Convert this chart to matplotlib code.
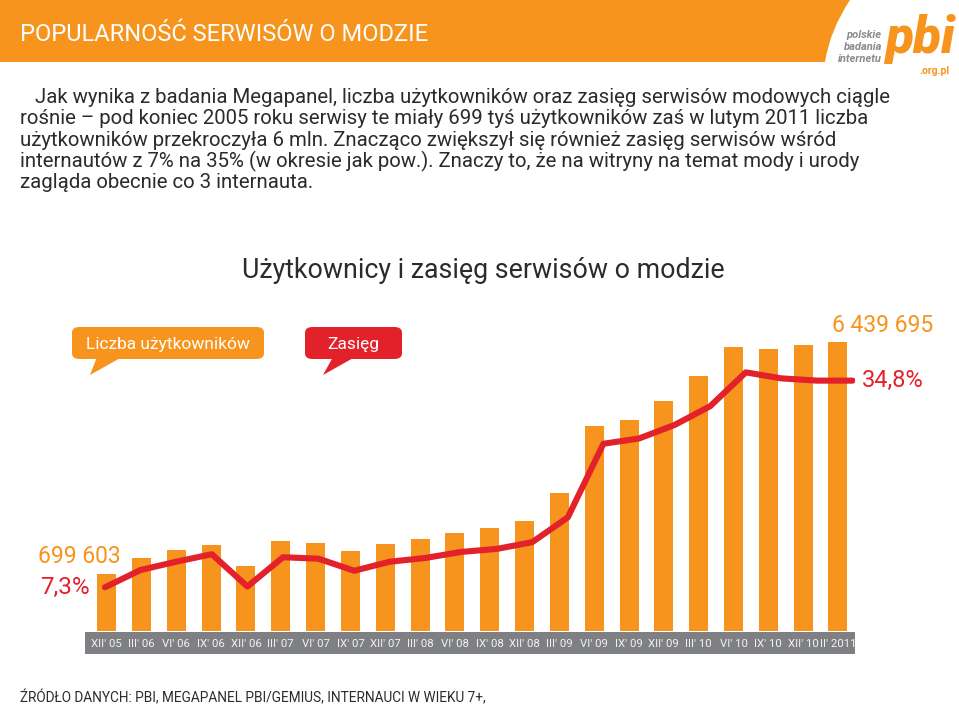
import matplotlib
matplotlib.use("Agg")
import matplotlib.pyplot as plt
from matplotlib.patches import FancyBboxPatch, Polygon, PathPatch
from matplotlib.path import Path
import numpy as np

# ---------------- data ----------------
categories = ["XII' 05", "III' 06", "VI' 06", "IX' 06", "XII' 06", "III' 07", "VI' 07",
              "IX' 07", "XII' 07", "III' 08", "VI' 08", "IX' 08", "XII' 08", "III' 09",
              "VI' 09", "IX' 09", "XII' 09", "III' 10", "VI' 10", "IX' 10", "XII' 10",
              "II' 2011"]
users = [699603, 1102000, 1292000, 1416000, 904000, 1515000, 1465000, 1260000,
         1441000, 1557000, 1712000, 1843000, 2009000, 2708000, 4364000, 4505000,
         4974000, 5592000, 6316000, 6259000, 6358000, 6439695]
reach = [7.3, 9.6, 10.7, 11.7, 7.4, 11.3, 11.1, 9.5, 10.7, 11.2, 12.0, 12.4, 13.3,
         16.6, 26.4, 27.1, 28.9, 31.4, 35.9, 35.1, 34.8, 34.8]

header_title = "POPULARNOŚĆ SERWISÓW O MODZIE"
paragraph = [
    "Jak wynika z badania Megapanel, liczba użytkowników oraz zasięg serwisów modowych ciągle",
    "rośnie – pod koniec 2005 roku serwisy te miały 699 tyś użytkowników zaś w lutym 2011 liczba",
    "użytkowników przekroczyła 6 mln. Znacząco zwiększył się również zasięg serwisów wśród",
    "internautów z 7% na 35% (w okresie jak pow.). Znaczy to, że na witryny na temat mody i urody",
    "zagląda obecnie co 3 internauta.",
]
chart_title = "Użytkownicy i zasięg serwisów o modzie"
legend_users = "Liczba użytkowników"
legend_reach = "Zasięg"
source = "ŹRÓDŁO DANYCH: PBI, MEGAPANEL PBI/GEMIUS, INTERNAUCI W WIEKU 7+,"

# ---------------- style ----------------
ORANGE = "#F7941D"
RED = "#E3212B"
GRAY = "#7F8083"
TEXT = "#2B2B2B"
plt.rcParams['font.family'] = ['Roboto', 'DejaVu Sans']

W, H = 959, 705
fig = plt.figure(figsize=(W / 100, H / 100), dpi=100)
fig.patch.set_facecolor("white")


def fx(px):
    return px / W


def fy(py):
    return 1 - py / H


# ---------------- header ----------------
verts = [(fx(0), fy(0)), (fx(850), fy(0)), (fx(830), fy(30)), (fx(825), fy(62)),
         (fx(0), fy(62)), (fx(0), fy(0))]
codes = [Path.MOVETO, Path.LINETO, Path.CURVE3, Path.CURVE3, Path.LINETO, Path.CLOSEPOLY]
fig.patches.append(PathPatch(Path(verts, codes), transform=fig.transFigure,
                             facecolor=ORANGE, edgecolor="none", zorder=0))
fig.text(fx(20), fy(41), header_title, color="white", fontsize=17, va="baseline", ha="left")

# logo
for i, w in enumerate(["polskie", "badania", "internetu"]):
    fig.text(fx(882), fy(38 + 12 * i), w, color="#8C8C8C", fontsize=8, fontweight="bold",
             style="italic", ha="right", va="baseline")
fig.text(fx(885), fy(53), "pbi", color=ORANGE, fontsize=37, fontweight="black",
         style="italic", ha="left", va="baseline")
fig.text(fx(949), fy(74), ".org.pl", color=ORANGE, fontsize=7.5, fontweight="bold",
         ha="right", va="baseline")

# paragraph
for i, line in enumerate(paragraph):
    x0 = 35 if i == 0 else 20
    fig.text(fx(x0), fy(103 + 21.3 * i), line, color=TEXT, fontsize=14.7,
             ha="left", va="baseline")

# chart title
fig.text(fx(483), fy(278), chart_title, color=TEXT, fontsize=19.3, ha="center", va="baseline")

# legend bubbles
def bubble(x0, x1, y0, y1, tail, color, label):
    box = FancyBboxPatch((fx(x0), fy(y1)), fx(x1) - fx(x0), (y1 - y0) / H,
                         boxstyle="round,pad=0,rounding_size=0.008",
                         transform=fig.transFigure, facecolor=color, edgecolor="none")
    fig.patches.append(box)
    tri = Polygon([(fx(p[0]), fy(p[1])) for p in tail], closed=True,
                  transform=fig.transFigure, facecolor=color, edgecolor="none")
    fig.patches.append(tri)
    fig.text(fx((x0 + x1) / 2), fy((y0 + y1) / 2 + 1), label, color="white", fontsize=12.5,
             ha="center", va="center")


bubble(72, 264, 327, 359, [(97, 357), (122, 357), (90, 375)], ORANGE, legend_users)
bubble(305, 402, 327, 359, [(333, 357), (355, 357), (323, 375)], RED, legend_reach)

# ---------------- chart ----------------
L, R, T, B = 85, 855, 300, 631
rect = [fx(L), fy(B), fx(R) - fx(L), (B - T) / H]
x = np.arange(len(categories))

BAR_STEP, BAR_X0 = 34.82, 106.7
xlim_bars = ((L - BAR_X0) / BAR_STEP, (R - BAR_X0) / BAR_STEP)
BAR_BASE = -709000
USER_TOP = 7470000

ax = fig.add_axes(rect)
ax.set_xlim(*xlim_bars)
ax.set_ylim(BAR_BASE, USER_TOP)
vals = np.array(users, dtype=float)
ax.bar(x, vals - BAR_BASE, bottom=BAR_BASE, width=19 / BAR_STEP, color=ORANGE, zorder=2)
ax.axis("off")

LINE_STEP, LINE_X0 = 35.6, 105
axl = fig.add_axes(rect)
axl.set_xlim((L - LINE_X0) / LINE_STEP, (R - LINE_X0) / LINE_STEP)
axl.set_ylim(1.48, 45.53)
axl.plot(x, reach, color=RED, lw=4.4, solid_capstyle="round", solid_joinstyle="round",
         zorder=3)
axl.axis("off")

# band with category labels
axb = fig.add_axes([fx(L), fy(654), fx(R) - fx(L), 22 / H])
axb.set_xlim(*xlim_bars)
axb.set_ylim(0, 1)
axb.set_facecolor(GRAY)
for s in axb.spines.values():
    s.set_visible(False)
axb.set_xticks([])
axb.set_yticks([])
for i, c in enumerate(categories):
    axb.text(i, 0.45, c, color="#F2F2F2", fontsize=8.2, ha="center", va="center")

# value labels
def fmt_num(v):
    return f"{v:,}".replace(",", " ")


def fmt_pct(p):
    return f"{p:.1f}%".replace(".", ",")


ax.annotate(fmt_num(users[0]), xy=(x[0], users[0]), xytext=(14, 17),
            textcoords="offset pixels", ha="right", va="center", color=ORANGE,
            fontsize=16.5, annotation_clip=False)
axl.annotate(fmt_pct(reach[0]), xy=(x[0], reach[0]), xytext=(-15, 0),
             textcoords="offset pixels", ha="right", va="center", color=RED,
             fontsize=17.5, annotation_clip=False)
ax.annotate(fmt_num(users[-1]), xy=(x[-1], users[-1]), xytext=(-6, 16),
            textcoords="offset pixels", ha="left", va="center", color=ORANGE,
            fontsize=16.5, annotation_clip=False)
axl.annotate(fmt_pct(reach[-1]), xy=(x[-1], reach[-1]), xytext=(9, 0),
             textcoords="offset pixels", ha="left", va="center", color=RED,
             fontsize=17, annotation_clip=False)

# source
fig.text(fx(20), fy(702), source, color=TEXT, fontsize=9.8, ha="left", va="baseline")

fig.savefig("out.png", dpi=100, facecolor="white")
